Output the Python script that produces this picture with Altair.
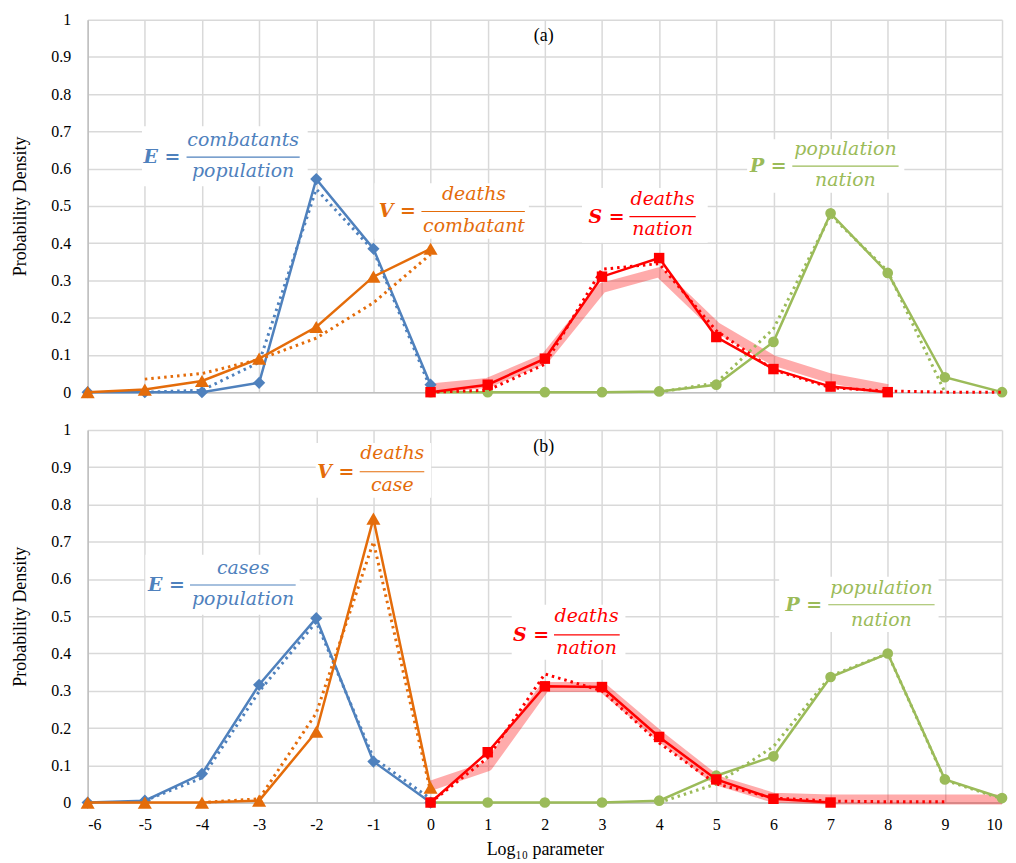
import altair as alt
import pandas as pd

# ---------------- data ----------------
X_TICKS = [-6, -5, -4, -3, -2, -1, 0, 1, 2, 3, 4, 5, 6, 7, 8, 9, 10]
Y_TICKS = [0, 0.1, 0.2, 0.3, 0.4, 0.5, 0.6, 0.7, 0.8, 0.9, 1]

X_NEG = [-6, -5, -4, -3, -2, -1, 0]
X_FIT_NEG = [-5, -4, -3, -2, -1, 0]
X_0_8 = [0, 1, 2, 3, 4, 5, 6, 7, 8]
X_0_10 = [0, 1, 2, 3, 4, 5, 6, 7, 8, 9, 10]

# Panel (a)
A_E = [0, 0, 0, 0.025, 0.572, 0.385, 0.02]
A_E_FIT = [0, 0.005, 0.08, 0.545, 0.38, 0.01]
A_V = [0, 0.007, 0.03, 0.09, 0.175, 0.31, 0.385]
A_V_FIT = [0.035, 0.05, 0.088, 0.145, 0.24, 0.37]
A_S = [0, 0.02, 0.09, 0.31, 0.36, 0.148, 0.062, 0.015, 0]
A_S_BAND = [0.01, 0.025, 0.09, 0.28, 0.322, 0.175, 0.085, 0.037, 0.008]
A_S_FIT = [0, 0.005, 0.075, 0.33, 0.345, 0.165, 0.06, 0.012, 0.003, 0, 0]
A_P = [0, 0, 0, 0, 0.002, 0.02, 0.135, 0.48, 0.32, 0.04, 0]
A_P_FIT_X = [4, 5, 6, 7, 8, 9]
A_P_FIT = [0, 0.025, 0.17, 0.475, 0.325, 0]

# Panel (b)
B_E = [0, 0.005, 0.077, 0.316, 0.495, 0.11, 0]
B_E_FIT = [0.005, 0.066, 0.298, 0.485, 0.12, 0.01]
B_V = [0, 0, 0, 0.005, 0.19, 0.762, 0.04]
B_V_FIT_X = [-4, -3, -2, -1, 0]
B_V_FIT = [0, 0.01, 0.24, 0.70, 0.03]
B_S_X = [0, 1, 2, 3, 4, 5, 6, 7]
B_S = [0, 0.135, 0.312, 0.31, 0.176, 0.062, 0.01, 0]
B_S_BAND = [0.045, 0.097, 0.31, 0.31, 0.18, 0.06, 0.013, 0.008, 0.008, 0.008, 0.008]
B_S_FIT_X = [0, 1, 2, 3, 4, 5, 6, 7, 8, 9]
B_S_FIT = [0, 0.12, 0.345, 0.30, 0.16, 0.05, 0.012, 0.004, 0.002, 0.002]
B_P = [0, 0, 0, 0, 0.005, 0.072, 0.124, 0.337, 0.40, 0.062, 0.012]
B_P_FIT_X = [4, 5, 6, 7, 8, 9, 10]
B_P_FIT = [0, 0.05, 0.15, 0.34, 0.40, 0.06, 0.01]

SERIES = ["E", "V", "S", "P"]
COLORS = ["#4F81BD", "#E46C0A", "#FF0000", "#9BBB59"]
SHAPES = {"E": ("diamond", 150), "V": ("triangle-up", 200), "S": ("square", 110), "P": ("circle", 115)}

# Annotations (formula labels)
ANN_PANEL = ["a", "a", "a", "a", "b", "b", "b", "b"]
ANN_SERIES = ["E", "V", "S", "P", "E", "V", "S", "P"]
ANN_LHS = ["E =", "V =", "S =", "P =", "E =", "V =", "S =", "P ="]
ANN_NUM = ["combatants", "deaths", "deaths", "population", "cases", "deaths", "deaths", "population"]
ANN_DEN = ["population", "combatant", "nation", "nation", "population", "case", "nation", "nation"]
LHS_X = [-4.70, -0.58, 3.08, 5.91, -4.62, -1.66, 1.76, 6.53]
FRAC_X = [-3.28, 0.76, 4.06, 7.26, -3.28, -0.67, 2.73, 7.89]
NUM_Y = [0.678, 0.532, 0.519, 0.652, 0.629, 0.938, 0.4995, 0.576]
DEN_Y = [0.594, 0.447, 0.439, 0.570, 0.546, 0.852, 0.415, 0.491]
BAR_Y = [0.631, 0.485, 0.471, 0.607, 0.584, 0.888, 0.450, 0.531]
BAR_X1 = [-4.27, -0.16, 3.48, 6.33, -4.21, -1.24, 2.16, 6.96]
BAR_X2 = [-2.29, 1.65, 4.64, 8.19, -2.36, -0.11, 3.31, 8.82]
BOX_X1 = [-5.05, -0.98, 2.65, 5.54, -4.99, -2.01, 1.42, 6.10]
BOX_X2 = [-2.15, 1.72, 4.85, 8.29, -2.29, 0.01, 3.41, 8.89]
BOX_Y1 = [0.553, 0.412, 0.401, 0.535, 0.504, 0.818, 0.383, 0.458]
BOX_Y2 = [0.714, 0.561, 0.548, 0.679, 0.665, 0.965, 0.531, 0.606]

PANEL_LABEL = {"a": "(a)", "b": "(b)"}
PANEL_LABEL_X = 1.98
PANEL_LABEL_Y = 0.955

SERIF = "Liberation Serif"
MATH = "DejaVu Serif"

# ---------------- build ----------------
PANELS = {
    "a": {
        "E": (X_NEG, A_E, X_FIT_NEG, A_E_FIT),
        "V": (X_NEG, A_V, X_FIT_NEG, A_V_FIT),
        "S": (X_0_8, A_S, X_0_10, A_S_FIT),
        "P": (X_0_10, A_P, A_P_FIT_X, A_P_FIT),
        "band": (X_0_8, A_S_BAND),
    },
    "b": {
        "E": (X_NEG, B_E, X_FIT_NEG, B_E_FIT),
        "V": (X_NEG, B_V, B_V_FIT_X, B_V_FIT),
        "S": (B_S_X, B_S, B_S_FIT_X, B_S_FIT),
        "P": (X_0_10, B_P, B_P_FIT_X, B_P_FIT),
        "band": (X_0_10, B_S_BAND),
    },
}

COLOR_SCALE = alt.Scale(domain=SERIES, range=COLORS)
XSCALE = alt.Scale(domain=[-6, 10], nice=False, zero=False)
YSCALE = alt.Scale(domain=[0, 1], nice=False, zero=True)

ann = pd.DataFrame({
    "panel": ANN_PANEL, "series": ANN_SERIES, "lhs": ANN_LHS, "num": ANN_NUM, "den": ANN_DEN,
    "lhs_x": LHS_X, "frac_x": FRAC_X, "num_y": NUM_Y, "den_y": DEN_Y, "bar_y": BAR_Y,
    "bar_x1": BAR_X1, "bar_x2": BAR_X2, "box_x1": BOX_X1, "box_x2": BOX_X2,
    "box_y1": BOX_Y1, "box_y2": BOX_Y2,
})

AXIS_FONT = dict(labelFont=SERIF, labelFontSize=16, labelColor="black",
                 titleFont=SERIF, titleFontSize=18, titleFontWeight="normal", titleColor="black",
                 gridColor="#d9d9d9", gridWidth=1.5, domainColor="#bfbfbf", domainWidth=1.5,
                 ticks=False, tickSize=0)


def xaxis(panel):
    if panel == "a":
        return alt.Axis(values=X_TICKS, labels=False, title=None, grid=True, **AXIS_FONT)
    return alt.Axis(values=X_TICKS, grid=True, title="Log₁₀ parameter",
                    labelExpr="'' + datum.value", labelPadding=14, titlePadding=8, **AXIS_FONT)


def yaxis():
    return alt.Axis(values=Y_TICKS, format="~g", grid=True,
                    title="Probability Density", labelPadding=17, titlePadding=21, **AXIS_FONT)


def X(panel, field):
    return alt.X(f"{field}:Q", scale=XSCALE, axis=xaxis(panel))


def Y(field):
    return alt.Y(f"{field}:Q", scale=YSCALE, axis=yaxis())


def panel_chart(panel):
    spec = PANELS[panel]
    a = ann[ann["panel"] == panel]
    layers = []
    # white boxes behind labels
    layers.append(
        alt.Chart(a).mark_rect(color="white").encode(
            x=X(panel, "box_x1"), x2="box_x2", y=Y("box_y1"), y2="box_y2")
    )
    # shaded band for S
    bx, by = spec["band"]
    layers.append(
        alt.Chart(pd.DataFrame({"x": bx, "y": by})).mark_line(
            color="#FF0000", opacity=0.33, strokeWidth=10, strokeJoin="round", strokeCap="butt"
        ).encode(x=X(panel, "x"), y=Y("y"))
    )
    for s in ["P", "E", "V", "S"]:
        xs, ys, fx, fy = spec[s]
        c = COLORS[SERIES.index(s)]
        shape, size = SHAPES[s]
        layers.append(
            alt.Chart(pd.DataFrame({"x": fx, "y": fy})).mark_line(
                color=c, strokeWidth=3, strokeDash=[2.5, 4]
            ).encode(x=X(panel, "x"), y=Y("y"))
        )
        d = pd.DataFrame({"x": xs, "y": ys})
        layers.append(
            alt.Chart(d).mark_line(color=c, strokeWidth=2.5).encode(x=X(panel, "x"), y=Y("y"))
        )
        layers.append(
            alt.Chart(d).mark_point(filled=True, opacity=1, color=c, shape=shape, size=size).encode(
                x=X(panel, "x"), y=Y("y"))
        )
    # formula text
    col = alt.Color("series:N", scale=COLOR_SCALE, legend=None)
    layers.append(
        alt.Chart(a).mark_text(font=MATH, fontStyle="italic", fontWeight="bold",
                               fontSize=19, baseline="middle", align="center").encode(
            x=X(panel, "lhs_x"), y=Y("bar_y"), text="lhs:N", color=col)
    )
    layers.append(
        alt.Chart(a).mark_text(font=MATH, fontStyle="italic",
                               fontSize=19, baseline="middle", align="center").encode(
            x=X(panel, "frac_x"), y=Y("num_y"), text="num:N", color=col)
    )
    layers.append(
        alt.Chart(a).mark_text(font=MATH, fontStyle="italic",
                               fontSize=19, baseline="middle", align="center").encode(
            x=X(panel, "frac_x"), y=Y("den_y"), text="den:N", color=col)
    )
    layers.append(
        alt.Chart(a).mark_rule(strokeWidth=1.2).encode(
            x=X(panel, "bar_x1"), x2="bar_x2", y=Y("bar_y"), color=col)
    )
    layers.append(
        alt.Chart(pd.DataFrame({"x": [PANEL_LABEL_X], "y": [PANEL_LABEL_Y], "t": [PANEL_LABEL[panel]]}))
        .mark_text(font=SERIF, fontSize=18, color="black", align="center", baseline="middle")
        .encode(x=X(panel, "x"), y=Y("y"), text="t:N")
    )
    return alt.layer(*layers).properties(width=918, height=374)


chart = alt.vconcat(panel_chart("a"), panel_chart("b"), spacing=22).properties(
    padding={"left": 4, "top": 2, "right": 0, "bottom": 0}
).configure_view(stroke=None)

chart.save("out.html", embed_options={"renderer": "svg", "actions": False})
